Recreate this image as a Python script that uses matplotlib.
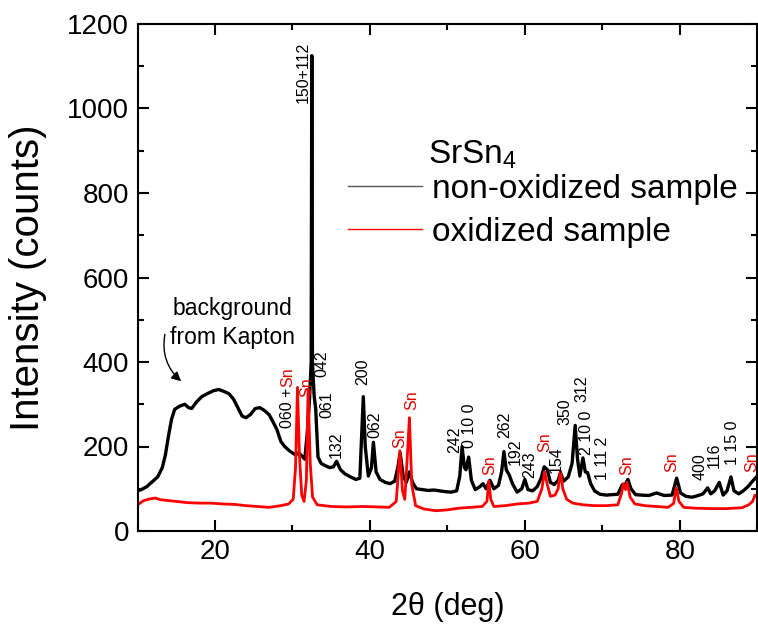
import matplotlib
matplotlib.use("Agg")
import matplotlib.pyplot as plt
from matplotlib.lines import Line2D
from matplotlib.ticker import MultipleLocator

plt.rcParams['font.family'] = ['Liberation Sans', 'DejaVu Sans']
plt.rcParams['mathtext.fontset'] = 'custom'
plt.rcParams['mathtext.rm'] = 'Liberation Sans'

# non-oxidized sample (2theta, counts)
two_theta_non = [10.0, 10.5, 11.2, 12.0, 12.6, 13.2, 13.6, 14.0, 14.4, 14.8, 15.4, 16.1, 16.6, 17.0,
                 17.6, 18.3, 19.0, 19.8, 20.5, 21.2, 21.8, 22.4, 23.0, 23.5, 24.0, 24.6, 25.2, 25.8,
                 26.4, 27.0, 27.5, 28.0, 28.5, 29.0, 29.6, 30.0, 30.4, 30.8, 31.2, 31.6, 31.9, 32.2,
                 32.42, 32.5, 32.58, 32.8, 33.0, 33.3, 33.7, 34.2, 34.8, 35.3, 35.7, 36.2, 36.8, 37.5,
                 38.2, 38.7, 39.0, 39.15, 39.4, 39.8, 40.2, 40.45, 40.8, 41.3, 42.0, 42.6, 43.2, 43.6,
                 43.9, 44.3, 44.7, 45.1, 45.5, 46.0, 46.8, 47.5, 48.3, 49.0, 49.8, 50.5, 51.2, 51.6,
                 51.9, 52.2, 52.4, 52.75, 53.1, 53.6, 54.2, 54.6, 55.0, 55.5, 56.0, 56.6, 57.0, 57.3,
                 57.6, 58.0, 58.4, 59.0, 59.6, 60.0, 60.4, 61.0, 61.6, 62.1, 62.5, 62.9, 63.3, 63.8,
                 64.3, 64.6, 65.0, 65.6, 66.1, 66.5, 66.8, 67.1, 67.5, 67.8, 68.1, 68.5, 69.0, 69.7,
                 70.5, 71.3, 72.0, 72.6, 72.9, 73.3, 73.7, 74.3, 75.0, 76.0, 77.0, 78.0, 79.0, 79.6,
                 80.1, 80.8, 81.6, 82.4, 83.0, 83.6, 84.0, 84.5, 85.1, 85.6, 86.1, 86.6, 87.0, 87.6,
                 88.2, 88.8, 89.4, 90.0]
counts_non = [95, 98, 105, 118, 128, 150, 180, 225, 265, 288, 295, 300, 292, 290,
              305, 318, 325, 332, 335, 330, 325, 312, 290, 272, 268, 276, 290, 292,
              285, 275, 258, 240, 212, 200, 190, 185, 180, 185, 178, 170, 230, 310,
              400, 1125, 400, 320, 290, 175, 160, 155, 150, 152, 165, 145, 135, 128,
              122, 125, 250, 318, 200, 130, 150, 210, 140, 122, 115, 112, 118, 150,
              185, 130, 115, 140, 115, 100, 98, 96, 97, 95, 93, 92, 95, 130,
              200, 150, 145, 175, 120, 98, 105, 112, 100, 120, 100, 108, 140, 188,
              145, 132, 112, 92, 100, 122, 98, 95, 105, 125, 152, 145, 115, 110,
              120, 138, 118, 128, 160, 250, 170, 130, 173, 140, 138, 112, 95, 87,
              85, 86, 87, 110, 108, 122, 100, 86, 85, 84, 90, 84, 85, 125,
              90, 82, 80, 84, 88, 102, 88, 95, 115, 85, 95, 128, 95, 88,
              95, 105, 118, 130]

# oxidized sample
two_theta_ox = [10.0, 10.8, 11.6, 12.3, 13.0, 14.0, 15.0, 16.5, 18.0, 19.5, 21.0, 22.5, 24.0, 25.5,
                27.0, 28.5, 29.5, 30.1, 30.4, 30.65, 30.9, 31.2, 31.5, 31.8, 32.02, 32.3, 32.6, 33.2,
                35.0, 37.0, 39.0, 41.0, 42.5, 43.4, 43.87, 44.2, 44.5, 44.9, 45.1, 45.4, 45.9, 47.0,
                48.5, 50.0, 51.5, 53.0, 54.5, 55.1, 55.35, 55.6, 56.0, 57.5, 59.0, 60.5, 61.6, 62.2,
                62.55, 62.9, 63.3, 63.9, 64.3, 64.6, 64.9, 65.4, 66.2, 67.5, 69.0, 70.5, 72.0, 72.5,
                72.7, 73.0, 73.2, 73.6, 74.2, 75.5, 77.0, 78.5, 79.2, 79.55, 79.9, 80.5, 82.0, 84.0,
                86.0, 88.0, 88.9, 89.4, 89.7, 90.0]
counts_ox = [62, 72, 76, 78, 74, 72, 70, 67, 66, 66, 64, 63, 60, 58,
             56, 60, 64, 75, 150, 340, 180, 85, 70, 120, 335, 160, 80, 62,
             58, 57, 58, 57, 56, 70, 190, 95, 75, 200, 268, 110, 60, 52,
             48, 50, 54, 56, 58, 70, 118, 75, 58, 60, 64, 66, 70, 100,
             140, 110, 82, 85, 100, 142, 100, 75, 66, 62, 60, 60, 62, 90,
             112, 98, 115, 80, 64, 60, 58, 56, 65, 102, 70, 56, 54, 53,
             53, 55, 62, 70, 85, 80]

# peak labels: text, 2theta, counts at bottom of text, colour
peak_text = ['150+112', '060 +', 'Sn', 'Sn', '042', '061', '132', '200', '062', 'Sn', 'Sn',
             '242', '0 10 0', 'Sn', '262', '192', '243', 'Sn', '154', '350', '312', '2 10 0',
             '1 11 2', 'Sn', 'Sn', '400', '116', '1 15 0', 'Sn']
peak_pos = [31.35, 29.4, 29.4, 31.9, 33.8, 34.5, 35.7, 39.1, 40.6, 43.9, 45.4,
            51.0, 52.9, 55.5, 57.4, 58.7, 60.6, 62.6, 64.1, 65.2, 67.4, 68.0,
            70.0, 73.2, 79.0, 82.6, 84.5, 86.8, 89.3]
peak_y = [1013, 244, 340, 317, 364, 267, 173, 345, 220, 196, 286,
          185, 196, 133, 220, 156, 125, 187, 137, 251, 305, 180,
          121, 133, 140, 121, 149, 156, 140]
peak_col = ['k', 'k', 'r', 'r', 'k', 'k', 'k', 'k', 'k', 'r', 'r',
            'k', 'k', 'r', 'k', 'k', 'k', 'r', 'k', 'k', 'k', 'k',
            'k', 'r', 'r', 'k', 'k', 'k', 'r']

fig = plt.figure(figsize=(7.58, 6.25), dpi=100)
ax = fig.add_axes([0.1814, 0.1504, 0.8176, 0.8112])

ax.plot(two_theta_non, counts_non, color='black', lw=2.4)
ax.plot(two_theta_ox, counts_ox, color='#ff0000', lw=2.0)

for t, x, y, c in zip(peak_text, peak_pos, peak_y, peak_col):
    ax.text(x, y, t, rotation=90, ha='center', va='bottom', fontsize=11.5,
            color='#e00000' if c == 'r' else 'black')

ax.text(22.3, 492, 'background\nfrom Kapton', ha='center', va='center', fontsize=16.5,
        linespacing=1.3)
ax.annotate('', xy=(15.9, 350), xytext=(13.6, 472),
            arrowprops=dict(arrowstyle='-|>', color='black', lw=1.0,
                            connectionstyle='arc3,rad=0.3', mutation_scale=14))

# legend
handles = [Line2D([], [], color='0.35', lw=1.0), Line2D([], [], color='red', lw=1.0)]
ax.legend(handles, ['non-oxidized sample', 'oxidized sample'], loc='upper left',
          bbox_to_anchor=(0.34, 0.705), frameon=False, fontsize=24, handlelength=2.22,
          handletextpad=0.3, labelspacing=0.36, borderpad=0, borderaxespad=0)
ax.text(0.4685, 0.7416, 'SrSn$_\\mathregular{4}$', transform=ax.transAxes, fontsize=24,
        va='center', ha='left')

ax.set_xlim(10, 90)
ax.set_ylim(0, 1200)
ax.xaxis.set_major_locator(MultipleLocator(20))
ax.xaxis.set_minor_locator(MultipleLocator(10))
ax.yaxis.set_major_locator(MultipleLocator(200))
ax.yaxis.set_minor_locator(MultipleLocator(100))
ax.tick_params(which='both', direction='in', top=True, right=True, width=1.5, labelsize=20, pad=6)
ax.tick_params(which='major', length=8)
ax.tick_params(which='minor', length=4)
for s in ax.spines.values():
    s.set_linewidth(1.5)

ax.set_xlabel('2θ (deg)', fontsize=22, labelpad=19)
ax.set_ylabel('Intensity (counts)', fontsize=29)
ax.yaxis.set_label_coords(-0.146, 0.5)

fig.savefig('out.png', dpi=100)
